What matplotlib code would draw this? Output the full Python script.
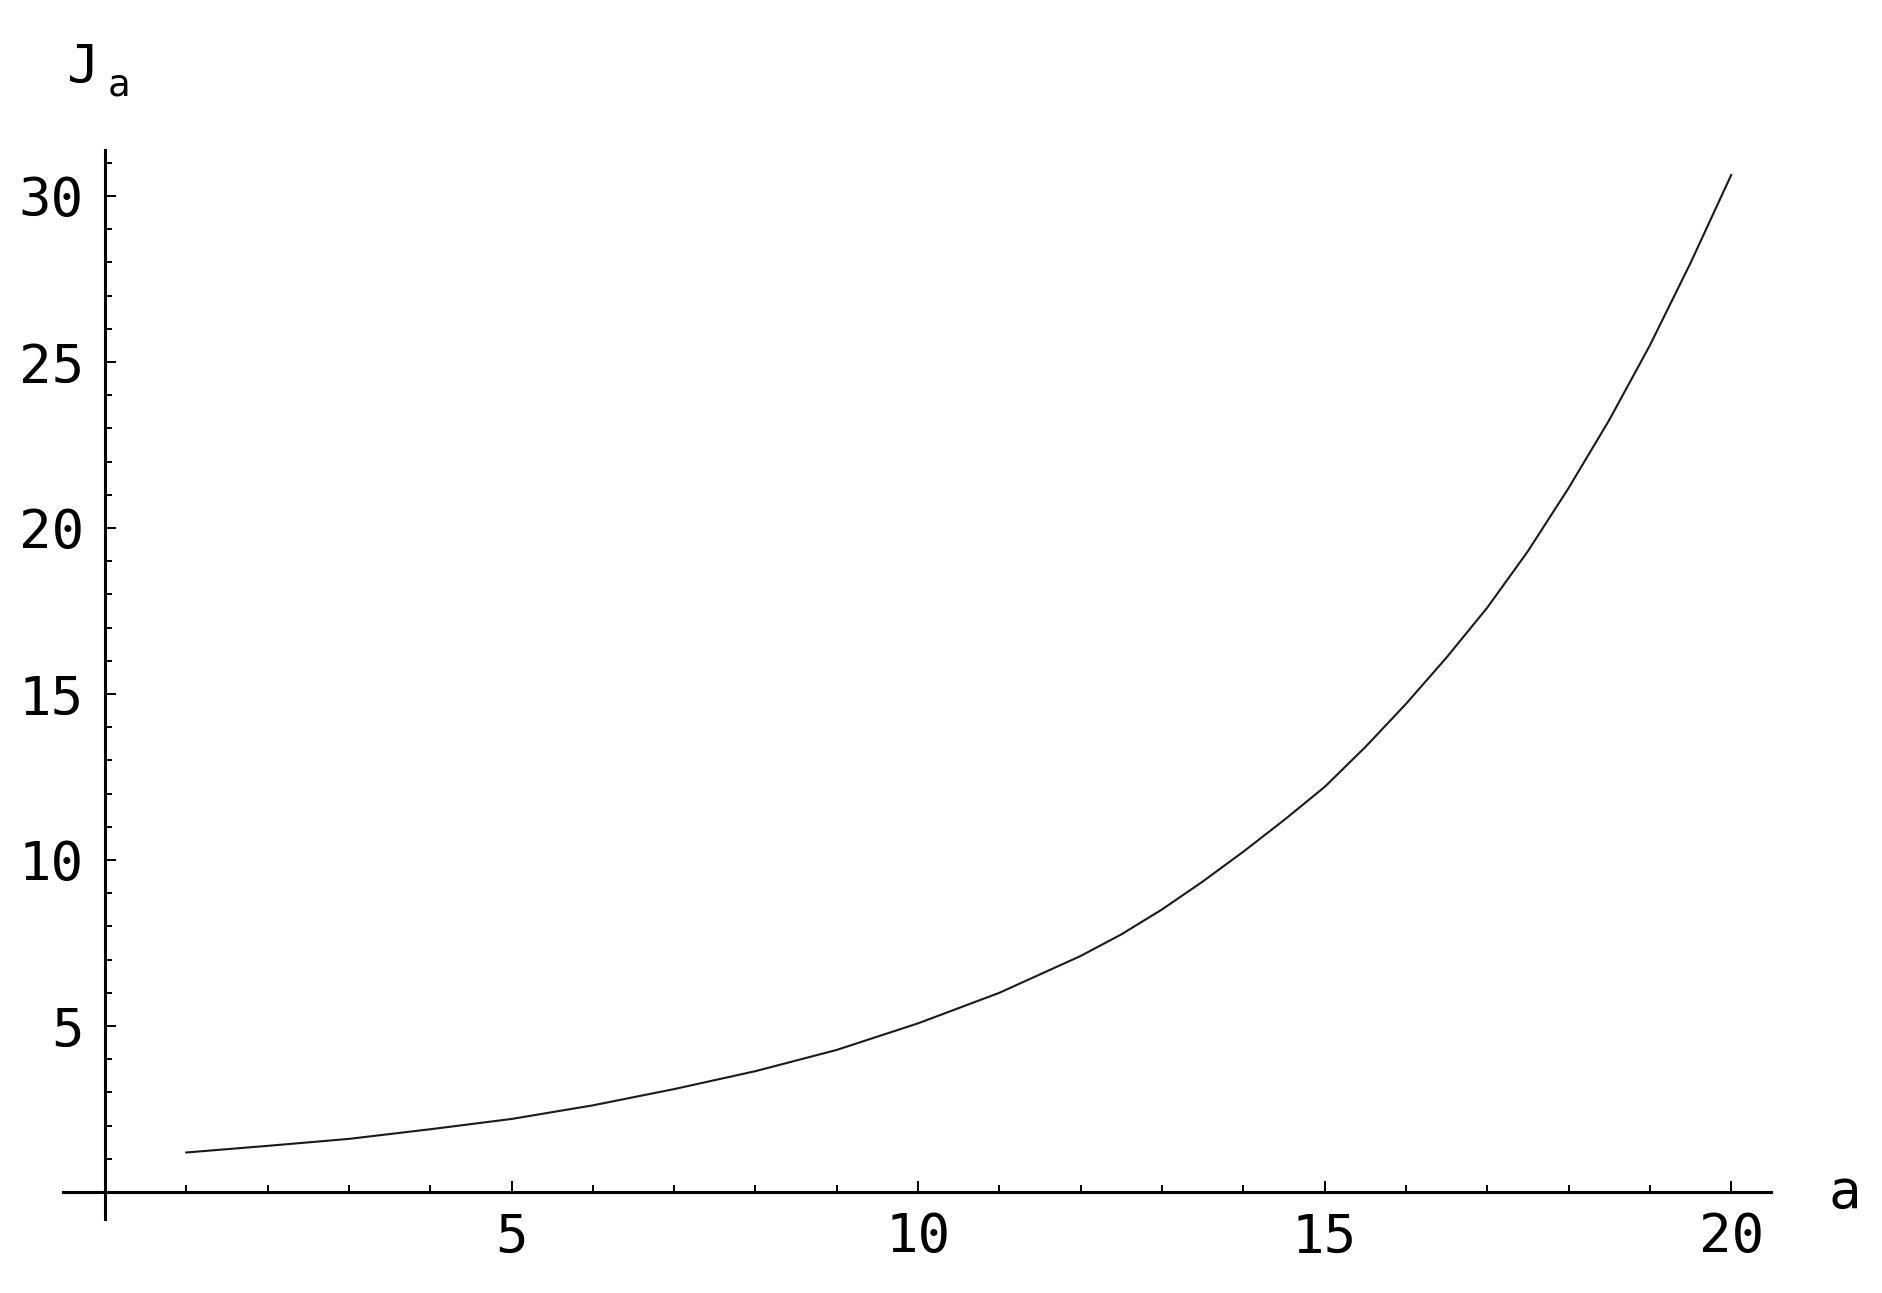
import numpy as np
import matplotlib.pyplot as plt

plt.rcParams['font.family'] = 'DejaVu Sans Mono'

# values
a_vals = [1, 2, 3, 4, 5, 6, 7, 8, 9, 10, 11, 12, 12.5, 13, 13.5, 14, 14.5,
          15, 15.5, 16, 16.5, 17, 17.5, 18, 18.5, 19, 19.5, 20]
J_vals = [1.19, 1.39, 1.60, 1.89, 2.20, 2.61, 3.10, 3.64, 4.28, 5.08,
          6.00, 7.11, 7.76, 8.51, 9.35, 10.25, 11.2,
          12.2, 13.4, 14.7, 16.1, 17.6, 19.3, 21.2, 23.25, 25.5, 27.98, 30.63]

x_major = [5, 10, 15, 20]
x_minor = [i for i in range(1, 20) if i % 5]
y_major = [5, 10, 15, 20, 25, 30]
y_minor = [i for i in range(1, 32) if i % 5]

W, H = 1882, 1293
fig = plt.figure(figsize=(W / 100, H / 100), dpi=100)
ax = fig.add_axes([62.7 / W, 1 - 1218.9 / H, (1771 - 62.7) / W, (1218.9 - 149.5) / H])

ax.plot(a_vals, J_vals, color='#1a1a1a', lw=1.5, solid_joinstyle='round')

ax.set_xlim(-0.52, 20.49)
ax.set_ylim(-0.81, 31.4)

# Mathematica-style axes crossing at the origin
for s in ['top', 'right']:
    ax.spines[s].set_visible(False)
ax.spines['left'].set_position(('data', 0))
ax.spines['bottom'].set_position(('data', 0))
for s in ['left', 'bottom']:
    ax.spines[s].set_linewidth(2.2)

ax.set_xticks(x_major)
ax.set_xticks(x_minor, minor=True)
ax.set_yticks(y_major)
ax.set_yticks(y_minor, minor=True)

ax.tick_params(which='major', direction='in', length=7.7, width=1.4, labelsize=39)
ax.tick_params(which='minor', direction='in', length=5.3, width=1.4)
ax.tick_params(axis='x', which='major', pad=14)
ax.tick_params(axis='y', which='major', pad=15)

# axis labels
fig.text(66 / W, 1 - 83 / H, 'J', ha='left', va='baseline', fontsize=39)
fig.text(108 / W, 1 - 95 / H, 'a', ha='left', va='baseline', fontsize=27)
fig.text(1828 / W, 1 - 1208 / H, 'a', ha='left', va='baseline', fontsize=39)

fig.savefig('out.png', dpi=100)
